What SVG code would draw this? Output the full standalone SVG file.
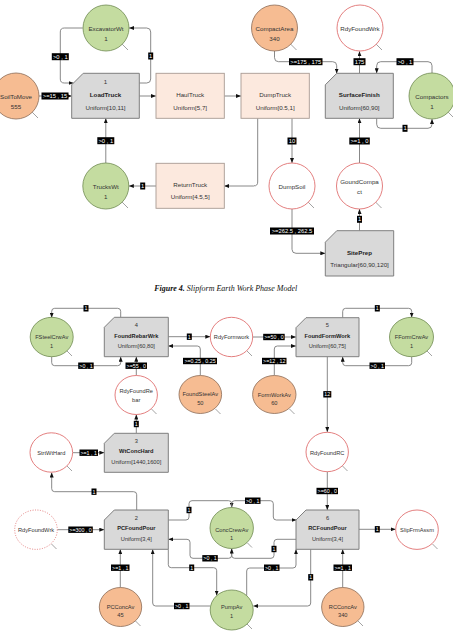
<svg xmlns="http://www.w3.org/2000/svg" width="453" height="631" viewBox="0 0 453 631">
<style>
.bg{fill:#fff}
.gbox{fill:#d9d9d9;stroke:#7f7f7f;stroke-width:1}
.pbox{fill:#fce9de;stroke:#a89a92;stroke-width:0.9}
.orn{fill:#f6bc92;stroke:#8c6b55;stroke-width:0.8}
.grn{fill:#c4dca0;stroke:#6e8a50;stroke-width:0.8}
.red{fill:#fff;stroke:#e07070;stroke-width:0.9}
.dot{fill:#fff;stroke:#e07070;stroke-width:0.9;stroke-dasharray:1 1.5}
.tail{stroke:#8a8a8a;stroke-width:0.8;fill:none}
.c{fill:none;stroke:#7a7a7a;stroke-width:0.9;marker-end:url(#ah)}
.t{font-family:"Liberation Sans",Arial,sans-serif;font-size:6.2px;fill:#333;text-anchor:middle;dominant-baseline:central}
.tb{font-family:"Liberation Sans",Arial,sans-serif;font-size:6.2px;font-weight:bold;fill:#222;text-anchor:middle;dominant-baseline:central}
.s{font-size:5.7px}
.lr{fill:#000}
.lt{font-family:"Liberation Sans",Arial,sans-serif;font-size:5.8px;fill:#fff;text-anchor:middle;dominant-baseline:central}
.ls{font-size:5.3px}
.cap{font-family:"Liberation Serif","Times New Roman",serif;font-size:8px;font-style:italic;fill:#111;text-anchor:middle}
</style>
<defs>
<marker id="ah" markerUnits="userSpaceOnUse" markerWidth="5" markerHeight="4" refX="5" refY="2" orient="auto">
<path d="M0,0 L5,2 L0,4 Z" fill="#111"/>
</marker>
</defs>
<rect class="bg" x="0" y="0" width="453" height="631"/>

<g id="connectors">
<!-- top diagram -->
<path class="c" d="M39,96 H71.7"/>
<path class="c" d="M139.3,83 H146.7 Q150.7,83 150.7,79 V32 Q150.7,28 146.7,28 H129"/>
<path class="c" d="M82.7,28 H64.3 Q60.3,28 60.3,32 V79 Q60.3,83 64.3,83 H73.5"/>
<path class="c" d="M139.3,96 H156"/>
<path class="c" d="M224.3,96 H241"/>
<path class="c" d="M105.8,163 V118.3"/>
<path class="c" d="M156,186 H128.8"/>
<path class="c" d="M257.7,118.3 V182 Q257.7,186 253.7,186 H224.3"/>
<path class="c" d="M292,118.3 V163"/>
<path class="c" d="M292,209 V249.3 Q292,253.3 296,253.3 H325.3"/>
<path class="c" d="M359.5,230.7 V209"/>
<path class="c" d="M359.5,163 V118.3"/>
<path class="c" d="M274.5,51 V57.7 Q274.5,61.7 278.5,61.7 H332.7 Q336.7,61.7 336.7,65.7 V73.5"/>
<path class="c" d="M359.5,73.3 V51.3"/>
<path class="c" d="M432,73 V65.7 Q432,61.7 428,61.7 H380.7 Q376.7,61.7 376.7,65.7 V73.3"/>
<path class="c" d="M376.7,118.3 V124.3 Q376.7,128.3 380.7,128.3 H428 Q432,128.3 432,124.3 V119"/>
<!-- bottom diagram -->
<path class="c" d="M120.7,317.3 V311.3 Q120.7,308.3 117.7,308.3 H54.7 Q51.7,308.3 51.7,311.3 V317.7"/>
<path class="c" d="M51.7,356.7 V362.7 Q51.7,365.7 54.7,365.7 H117.7 Q120.7,365.7 120.7,362.7 V356.7"/>
<path class="c" d="M168.3,336.7 H210.3"/>
<path class="c" d="M200.3,375.3 V349 Q200.3,346 197.3,346 H168.3"/>
<path class="c" d="M136.3,375.3 V356.7"/>
<path class="c" d="M136.3,433.3 V414.5"/>
<path class="c" d="M252.6,337 H296"/>
<path class="c" d="M274.3,375.3 V349 Q274.3,346 277.3,346 H296"/>
<path class="c" d="M342.7,317.7 V311.3 Q342.7,308.3 345.7,308.3 H408.7 Q411.7,308.3 411.7,311.3 V317.5"/>
<path class="c" d="M411.7,356.5 V362.7 Q411.7,365.7 408.7,365.7 H345.7 Q342.7,365.7 342.7,362.7 V356.7"/>
<path class="c" d="M327.3,356.7 V432"/>
<path class="c" d="M72.8,452.7 H104.3"/>
<path class="c" d="M136.7,510 V494.7 Q136.7,491.7 133.7,491.7 H54.7 Q51.7,491.7 51.7,488.7 V472.5"/>
<path class="c" d="M57.5,529.7 H104.3"/>
<path class="c" d="M120.3,587.5 V549.3"/>
<path class="c" d="M210.2,606 H155.7 Q152.7,606 152.7,603 V549.3"/>
<path class="c" d="M168.3,549.3 V564.7 Q168.3,567.7 171.3,567.7 H213.7 Q216.7,567.7 216.7,570.7 V595.5"/>
<path class="c" d="M168.3,520 H186 Q189,520 189,517 V503.7 Q189,500.7 192,500.7 H228.7 Q231.7,500.7 231.7,503.7 V507.5"/>
<path class="c" d="M231.7,548.5 V555.3 Q231.7,558.3 228.7,558.3 H193 Q190,558.3 190,555.3 V542.3 Q190,539.3 187,539.3 H168.3"/>
<path class="c" d="M231.7,507.5 V503.7 Q231.7,500.7 234.7,500.7 H270.3 Q273.3,500.7 273.3,503.7 V517 Q273.3,520 276.3,520 H296.5"/>
<path class="c" d="M296,539.3 H277 Q274,539.3 274,542.3 V555.3 Q274,558.3 271,558.3 H234.7 Q231.7,558.3 231.7,555.3 V548.5"/>
<path class="c" d="M246.7,595.7 V571 Q246.7,568 249.7,568 H293 Q296,568 296,565 V549.3"/>
<path class="c" d="M310.7,549.3 V603 Q310.7,606 307.7,606 H253.3"/>
<path class="c" d="M327.3,471.8 V510"/>
<path class="c" d="M342.7,587.5 V549.3"/>
<path class="c" d="M359,529.3 H395.7"/>

<!-- labels top -->
<g><rect class="lr" x="41.5" y="92.5" width="27" height="7"/><text class="lt" x="55" y="96">&gt;=15 , 15</text></g>
<g><rect class="lr" x="148.2" y="52.5" width="5" height="7"/><text class="lt" x="150.7" y="56">1</text></g>
<g><rect class="lr" x="51.8" y="53.2" width="17" height="7"/><text class="lt" x="60.3" y="56.7">&gt;0 , 1</text></g>
<g><rect class="lr" x="97.3" y="137.2" width="17" height="7"/><text class="lt" x="105.8" y="140.7">&gt;0 , 1</text></g>
<g><rect class="lr" x="140.2" y="182.5" width="5" height="7"/><text class="lt" x="142.7" y="186">1</text></g>
<g><rect class="lr" x="287.5" y="137.5" width="9" height="7"/><text class="lt" x="292" y="141">10</text></g>
<g><rect class="lr" x="270" y="227.5" width="44" height="7"/><text class="lt" x="292" y="231">&gt;=262.5 , 262.5</text></g>
<g><rect class="lr" x="357" y="215.8" width="5" height="7"/><text class="lt" x="359.5" y="219.3">1</text></g>
<g><rect class="lr" x="349.3" y="137.5" width="20.5" height="7"/><text class="lt" x="359.5" y="141">&gt;=1 , 0</text></g>
<g><rect class="lr" x="289" y="58.2" width="33.5" height="7"/><text class="lt" x="305.8" y="61.7">&gt;=175 , 175</text></g>
<g><rect class="lr" x="353.5" y="58.2" width="12" height="7"/><text class="lt" x="359.5" y="61.7">175</text></g>
<g><rect class="lr" x="396.5" y="58.2" width="17" height="7"/><text class="lt" x="405" y="61.7">&gt;0 , 1</text></g>
<g><rect class="lr" x="402.5" y="124.8" width="5" height="7"/><text class="lt" x="405" y="128.3">1</text></g>
<!-- labels bottom -->
<g><rect class="lr" x="83.5" y="305.1" width="5" height="6.4"/><text class="lt ls" x="86" y="308.3">1</text></g>
<g><rect class="lr" x="78.2" y="362.5" width="15.5" height="6.4"/><text class="lt ls" x="86" y="365.7">&gt;0 , 1</text></g>
<g><rect class="lr" x="186.8" y="333.5" width="5" height="6.4"/><text class="lt ls" x="189.3" y="336.7">1</text></g>
<g><rect class="lr" x="183" y="357.8" width="34" height="6.4"/><text class="lt ls" x="200" y="361">&gt;=0.25 , 0.25</text></g>
<g><rect class="lr" x="125.5" y="362.5" width="21.5" height="6.4"/><text class="lt ls" x="136.3" y="365.7">&gt;=55 , 0</text></g>
<g><rect class="lr" x="133.8" y="420.8" width="5" height="6.4"/><text class="lt ls" x="136.3" y="424">1</text></g>
<g><rect class="lr" x="263.2" y="333.8" width="21.5" height="6.4"/><text class="lt ls" x="274" y="337">&gt;=50 , 0</text></g>
<g><rect class="lr" x="262" y="357.8" width="24.5" height="6.4"/><text class="lt ls" x="274.3" y="361">&gt;=12 , 12</text></g>
<g><rect class="lr" x="374.8" y="305.1" width="5" height="6.4"/><text class="lt ls" x="377.3" y="308.3">1</text></g>
<g><rect class="lr" x="369.5" y="362.5" width="15.5" height="6.4"/><text class="lt ls" x="377.3" y="365.7">&gt;0 , 1</text></g>
<g><rect class="lr" x="323.3" y="391.1" width="8" height="6.4"/><text class="lt ls" x="327.3" y="394.3">12</text></g>
<g><rect class="lr" x="79.5" y="449.5" width="18.5" height="6.4"/><text class="lt ls" x="88.7" y="452.7">&gt;=1 , 1</text></g>
<g><rect class="lr" x="91.5" y="488.5" width="5" height="6.4"/><text class="lt ls" x="94" y="491.7">1</text></g>
<g><rect class="lr" x="68.3" y="526.5" width="24.5" height="6.4"/><text class="lt ls" x="80.5" y="529.7">&gt;=300 , 0</text></g>
<g><rect class="lr" x="111" y="564.5" width="18.5" height="6.4"/><text class="lt ls" x="120.3" y="567.7">&gt;=1 , 1</text></g>
<g><rect class="lr" x="174" y="602.8" width="15.5" height="6.4"/><text class="lt ls" x="181.7" y="606">&gt;0 , 1</text></g>
<g><rect class="lr" x="189.2" y="564.5" width="5" height="6.4"/><text class="lt ls" x="191.7" y="567.7">1</text></g>
<g><rect class="lr" x="186.5" y="506.8" width="5" height="6.4"/><text class="lt ls" x="189" y="510">1</text></g>
<g><rect class="lr" x="202.3" y="555.1" width="15.5" height="6.4"/><text class="lt ls" x="210" y="558.3">&gt;0 , 1</text></g>
<g><rect class="lr" x="245" y="497.5" width="15.5" height="6.4"/><text class="lt ls" x="252.7" y="500.7">&gt;0 , 1</text></g>
<g><rect class="lr" x="271.5" y="545.8" width="5" height="6.4"/><text class="lt ls" x="274" y="549">1</text></g>
<g><rect class="lr" x="264" y="564.5" width="15.5" height="6.4"/><text class="lt ls" x="271.7" y="567.7">&gt;0 , 1</text></g>
<g><rect class="lr" x="308.2" y="574.1" width="5" height="6.4"/><text class="lt ls" x="310.7" y="577.3">1</text></g>
<g><rect class="lr" x="316.5" y="487.8" width="21.5" height="6.4"/><text class="lt ls" x="327.3" y="491">&gt;=60 , 0</text></g>
<g><rect class="lr" x="333.5" y="564.5" width="18.5" height="6.4"/><text class="lt ls" x="342.7" y="567.7">&gt;=1 , 1</text></g>
<g><rect class="lr" x="374.8" y="526.1" width="5" height="6.4"/><text class="lt ls" x="377.3" y="529.3">1</text></g>
</g>

<!-- top diagram nodes -->
<g id="SoilToMove"><line class="tail" x1="32" y1="112" x2="38" y2="118"/><circle class="orn" cx="16" cy="96" r="23"/><text class="t" x="16" y="96">SoilToMove</text><text class="t" x="16" y="106">555</text></g>
<g id="ExcavatorWt"><line class="tail" x1="122" y1="44" x2="128" y2="50"/><circle class="grn" cx="106" cy="28" r="23"/><text class="t" x="106" y="28">ExcavatorWt</text><text class="t" x="106" y="38">1</text></g>
<g id="LoadTruck"><path class="gbox" d="M83.2,73.3 H139.3 V118.3 H71.7 V84.8 Z"/><text class="t" x="105.5" y="81.7">1</text><text class="tb" x="105.5" y="94.3">LoadTruck</text><text class="t" x="105.5" y="107">Uniform[10,11]</text></g>
<g id="HaulTruck"><rect class="pbox" x="156" y="73.3" width="68.3" height="45"/><text class="t" x="190.2" y="94.3">HaulTruck</text><text class="t" x="190.2" y="107">Uniform[5,7]</text></g>
<g id="DumpTruck"><rect class="pbox" x="241" y="73.3" width="68.3" height="45"/><text class="t" x="275.2" y="94.3">DumpTruck</text><text class="t" x="275.2" y="107">Uniform[0.5,1]</text></g>
<g id="CompactArea"><line class="tail" x1="290.5" y1="44" x2="296.5" y2="50"/><circle class="orn" cx="274.5" cy="28" r="23"/><text class="t" x="274.5" y="28">CompactArea</text><text class="t" x="274.5" y="38">340</text></g>
<g id="RdyFoundWrk1"><line class="tail" x1="376" y1="44" x2="382" y2="50"/><circle class="red" cx="360" cy="28" r="23"/><text class="t" x="360" y="28">RdyFoundWrk</text></g>
<g id="SurfaceFinish"><path class="gbox" d="M336.8,73.3 H393.3 V118.3 H325.3 V84.8 Z"/><text class="tb" x="359.3" y="94.3">SurfaceFinish</text><text class="t" x="359.3" y="107">Uniform[60,90]</text></g>
<g id="Compactors"><line class="tail" x1="448" y1="112" x2="454" y2="118"/><circle class="grn" cx="432" cy="96" r="23"/><text class="t" x="432" y="96">Compactors</text><text class="t" x="432" y="106">1</text></g>
<g id="TrucksWt"><line class="tail" x1="122" y1="202" x2="128" y2="208"/><circle class="grn" cx="105.8" cy="186" r="23"/><text class="t" x="105.8" y="186">TrucksWt</text><text class="t" x="105.8" y="196">1</text></g>
<g id="ReturnTruck"><rect class="pbox" x="156" y="163.3" width="68.3" height="45"/><text class="t" x="190.2" y="184.3">ReturnTruck</text><text class="t" x="190.2" y="196.7">Uniform[4.5,5]</text></g>
<g id="DumpSoil"><line class="tail" x1="308" y1="202" x2="314" y2="208"/><circle class="red" cx="292" cy="186" r="23"/><text class="t" x="292" y="186">DumpSoil</text></g>
<g id="GoundCompact"><line class="tail" x1="375.5" y1="202" x2="381.5" y2="208"/><circle class="red" cx="359.5" cy="186" r="23"/><text class="t" x="359.5" y="181.7">GoundCompa</text><text class="t" x="359.5" y="191.7">ct</text></g>
<g id="SitePrep"><path class="gbox" d="M336.8,230.7 H393.7 V276 H325.3 V242.2 Z"/><text class="tb" x="359.5" y="252">SitePrep</text><text class="t" x="359.5" y="264.7">Triangular[60,90,120]</text></g>

<text class="cap" x="225.7" y="291"><tspan font-weight="bold">Figure 4.</tspan> Slipform Earth Work Phase Model</text>

<!-- bottom diagram nodes -->
<g id="FSteelCrwAv"><line class="tail" x1="67" y1="351" x2="72" y2="356"/><ellipse class="grn" cx="51.7" cy="337" rx="21.5" ry="19.7"/><text class="t s" x="51.7" y="337">FSteelCrwAv</text><text class="t s" x="51.7" y="345.5">1</text></g>
<g id="FoundRebarWrk"><path class="gbox" d="M114.3,317.3 H168.3 V356.7 H104.3 V327.3 Z"/><text class="t s" x="136.3" y="325">4</text><text class="tb s" x="136.3" y="336">FoundRebarWrk</text><text class="t s" x="136.3" y="346">Uniform[60,80]</text></g>
<g id="RdyFormwork"><line class="tail" x1="247" y1="351" x2="252" y2="356"/><ellipse class="red" cx="231.5" cy="337" rx="21.2" ry="19.7"/><text class="t s" x="231.5" y="337">RdyFormwork</text></g>
<g id="FoundFormWork"><path class="gbox" d="M306,317.7 H359 V356.7 H296 V327.7 Z"/><text class="t s" x="327.3" y="325">5</text><text class="tb s" x="327.3" y="336">FoundFormWork</text><text class="t s" x="327.3" y="346">Uniform[60,75]</text></g>
<g id="FFormCrwAv"><line class="tail" x1="427" y1="351" x2="432" y2="356"/><ellipse class="grn" cx="411.5" cy="337" rx="22" ry="19.7"/><text class="t s" x="411.5" y="337">FFormCrwAv</text><text class="t s" x="411.5" y="345.5">1</text></g>
<g id="RdyFoundRebar"><line class="tail" x1="151.5" y1="409" x2="156.5" y2="414"/><ellipse class="red" cx="136.2" cy="395" rx="21.2" ry="19.5"/><text class="t s" x="136.2" y="391">RdyFoundRe</text><text class="t s" x="136.2" y="400">bar</text></g>
<g id="FoundSteelAv"><line class="tail" x1="215.5" y1="409" x2="220.5" y2="414"/><ellipse class="orn" cx="200.3" cy="394.5" rx="21.3" ry="19"/><text class="t s" x="200.3" y="394">FoundSteelAv</text><text class="t s" x="200.3" y="403.3">50</text></g>
<g id="FormWorkAv"><line class="tail" x1="289.5" y1="409" x2="294.5" y2="414"/><ellipse class="orn" cx="274.3" cy="394.5" rx="21.7" ry="19"/><text class="t s" x="274.3" y="394.5">FormWorkAv</text><text class="t s" x="274.3" y="403.3">60</text></g>
<g id="StrtWtHard"><line class="tail" x1="67" y1="466" x2="72" y2="471"/><ellipse class="red" cx="51.3" cy="452.5" rx="21.3" ry="19.7"/><text class="t s" x="51.3" y="452.7">StrtWtHard</text></g>
<g id="WtConcHard"><path class="gbox" d="M114.3,433.3 H168.3 V472.3 H104.3 V443.3 Z"/><text class="t s" x="136.3" y="440.5">3</text><text class="tb s" x="136.3" y="451">WtConcHard</text><text class="t s" x="136.3" y="461.7">Uniform[1440,1600]</text></g>
<g id="RdyFoundRC"><line class="tail" x1="342.5" y1="466" x2="347.5" y2="471"/><ellipse class="red" cx="327.2" cy="452" rx="21.2" ry="19.7"/><text class="t s" x="327.2" y="453.3">RdyFoundRC</text></g>
<g id="RdyFoundWrk2"><line class="tail" x1="51.5" y1="544" x2="56.5" y2="549"/><ellipse class="dot" cx="36" cy="529.7" rx="21.3" ry="19.7"/><text class="t s" x="36" y="530">RdyFoundWrk</text></g>
<g id="PCFoundPour"><path class="gbox" d="M114.3,510 H168.3 V549.3 H104.3 V520 Z"/><text class="t s" x="136.3" y="517.7">2</text><text class="tb s" x="136.3" y="528.3">PCFoundPour</text><text class="t s" x="136.3" y="539">Uniform[3,4]</text></g>
<g id="ConcCrewAv"><line class="tail" x1="247" y1="542.5" x2="252" y2="547.5"/><ellipse class="grn" cx="231.7" cy="528" rx="21.7" ry="20.5"/><text class="t s" x="231.7" y="529.7">ConcCrewAv</text><text class="t s" x="231.7" y="538.3">1</text></g>
<g id="RCFoundPour"><path class="gbox" d="M306,510 H359 V549.3 H296 V520 Z"/><text class="t s" x="327.5" y="517.7">6</text><text class="tb s" x="327.5" y="528.3">RCFoundPour</text><text class="t s" x="327.5" y="539">Uniform[3,4]</text></g>
<g id="SlipFrmAssm"><line class="tail" x1="432.5" y1="544" x2="437.5" y2="549"/><ellipse class="red" cx="417" cy="529.7" rx="21.3" ry="19.7"/><text class="t s" x="417" y="530">SlipFrmAssm</text></g>
<g id="PCConcAv"><line class="tail" x1="135.5" y1="621" x2="140.5" y2="626"/><ellipse class="orn" cx="120.5" cy="607" rx="21.2" ry="19.5"/><text class="t s" x="120.5" y="606.7">PCConcAv</text><text class="t s" x="120.5" y="615">45</text></g>
<g id="PumpAv"><line class="tail" x1="247" y1="624" x2="252" y2="629"/><ellipse class="grn" cx="231.7" cy="610" rx="21.5" ry="20"/><text class="t s" x="231.7" y="607.3">PumpAv</text><text class="t s" x="231.7" y="616">1</text></g>
<g id="RCConcAv"><line class="tail" x1="358" y1="621" x2="363" y2="626"/><ellipse class="orn" cx="342.8" cy="607" rx="21.2" ry="19.5"/><text class="t s" x="342.8" y="606.7">RCConcAv</text><text class="t s" x="342.8" y="615">340</text></g>
</svg>
